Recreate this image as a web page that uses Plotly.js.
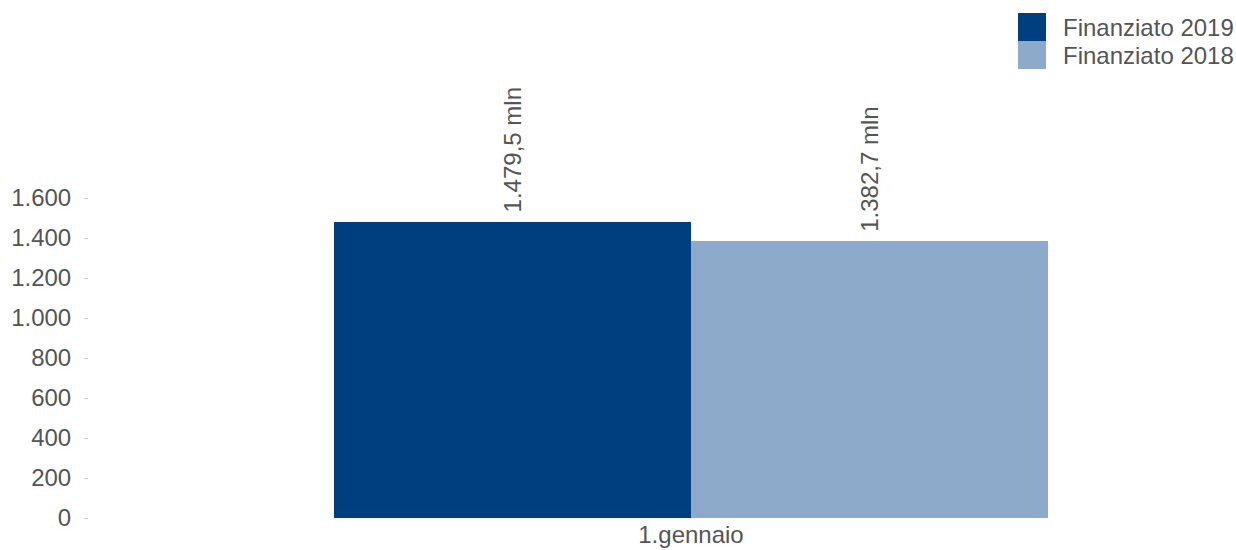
<!DOCTYPE html>
<html>
<head>
<meta charset="utf-8">
<script src="https://cdn.plot.ly/plotly-3.0.1.min.js"></script>
<style>html,body{margin:0;padding:0;background:#fff;}#chart{width:1236px;height:550px;}</style>
</head>
<body>
<div id="chart"></div>
<script>
const categories = ["1.gennaio"];
const seriesNames = ["Finanziato 2019", "Finanziato 2018"];
const values2019 = [1479.5];
const values2018 = [1382.7];
const yTicks = [0, 200, 400, 600, 800, 1000, 1200, 1400, 1600];

const colors = ["#003f7f", "#8eaacb"];
const font = {family: "Liberation Sans, Arial, sans-serif", size: 24, color: "#555555"};

const traces = [values2019, values2018].map((vals, i) => ({
  type: "bar",
  name: seriesNames[i],
  x: categories,
  y: vals,
  marker: {color: colors[i]},
  texttemplate: "\u00a0%{y:,.1f} mln",
  textposition: "outside",
  textangle: -90,
  constraintext: "none",
  cliponaxis: false,
  textfont: font,
  showlegend: false,
  hoverinfo: "none"
}));

const layout = {
  width: 1236, height: 550,
  margin: {l: 89, r: 0, t: 198, b: 32},
  paper_bgcolor: "#fff", plot_bgcolor: "#fff",
  separators: ",.",
  barmode: "group", bargap: 0, bargroupgap: 0,
  font: font,
  showlegend: false,
  xaxis: {range: [-0.8431, 0.7633], showgrid: false, zeroline: false, showline: false, ticks: "", tickfont: font, fixedrange: true},
  yaxis: {range: [0, 1600], tickvals: yTicks, tickformat: ",d", showgrid: false, zeroline: false, showline: false,
    ticks: "outside", ticklen: 4, tickcolor: "#d0d0d0", tickwidth: 1, ticklabelstandoff: 8, tickfont: font, fixedrange: true},
  shapes: [],
  annotations: []
};

// custom legend with large square swatches in pixel positions
const plotW = 1236 - 89, plotH = 550 - 198 - 32;
function px(x) { return (x - 89) / plotW; }
function py(y) { return (550 - 32 - y) / plotH; }
seriesNames.forEach((n, i) => {
  const top = 13 + i * 28;
  layout.shapes.push({type: "rect", xref: "paper", yref: "paper",
    x0: px(1018), x1: px(1046), y0: py(top + 28), y1: py(top), line: {width: 0}, fillcolor: colors[i]});
  layout.annotations.push({xref: "paper", yref: "paper", x: px(1061), y: py(top + 14), xanchor: "left", yanchor: "middle",
    text: n, showarrow: false, font: font});
});

Plotly.newPlot("chart", traces, layout, {staticPlot: true});
</script>
</body>
</html>
